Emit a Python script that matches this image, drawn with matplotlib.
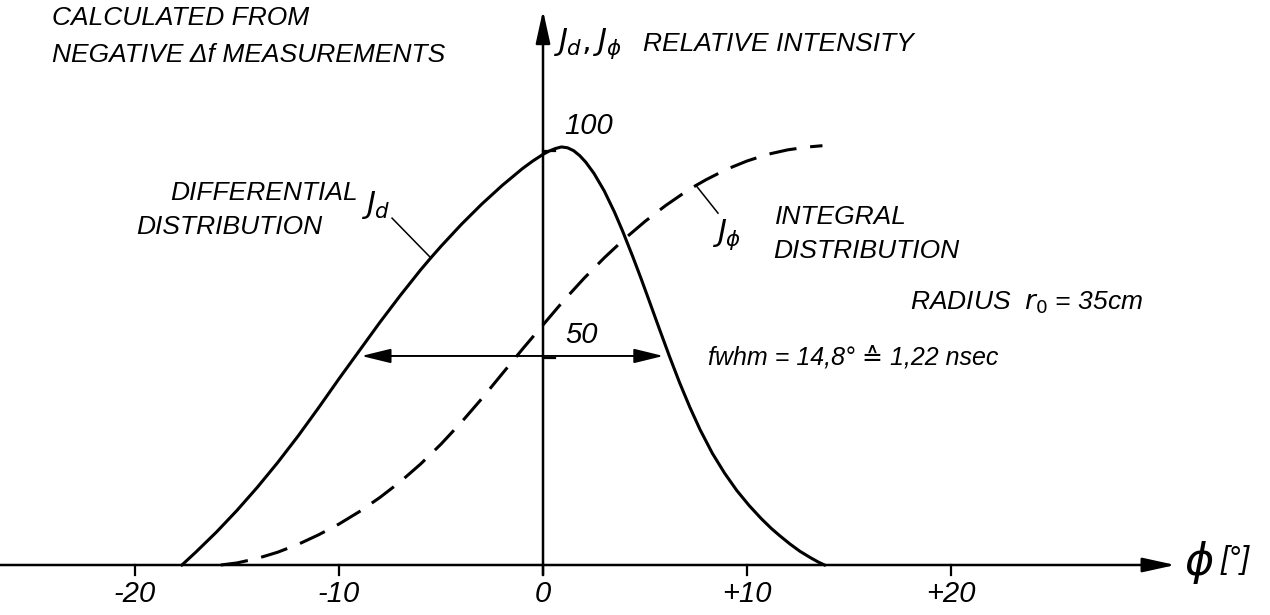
import matplotlib.pyplot as plt

plt.rcParams['font.family'] = ['Liberation Sans', 'DejaVu Sans']
plt.rcParams['mathtext.fontset'] = 'dejavusans'

# Differential distribution J_d (solid), relative intensity vs phi [deg]
diff_phi = [-17.7, -17.0, -16.0, -15.0, -14.0, -13.0, -12.0, -11.0, -10.0, -9.0,
            -8.0, -7.0, -6.0, -5.5, -5.0, -4.0, -3.0, -2.0, -1.0, -0.5,
            0.0, 0.3, 0.6, 0.9, 1.2, 1.5, 1.8, 2.1, 2.5, 3.0,
            3.5, 3.9, 4.4, 4.8, 5.2, 5.7, 6.2, 6.7, 7.2, 7.7,
            8.3, 8.9, 9.5, 10.1, 10.7, 11.2, 11.6, 12.1, 12.6, 13.1, 13.5, 13.8]
diff_val = [0, 3.2, 8.0, 13.2, 18.8, 24.8, 31.2, 38.0, 45.0, 51.8,
            58.6, 65.1, 71.3, 74.2, 77.0, 82.3, 87.2, 91.7, 95.8, 97.6,
            99.2, 100.0, 100.6, 101.0, 100.8, 100.1, 98.9, 97.3, 94.6, 90.4,
            85.3, 80.7, 74.5, 69.3, 63.9, 57.1, 50.4, 44.0, 38.1, 32.7,
            27.0, 22.2, 18.0, 14.4, 11.2, 8.8, 7.1, 5.1, 3.3, 1.8, 0.7, 0]

# Integral distribution J_phi (dashed)
int_phi = [-15.8, -15.0, -14.0, -13.0, -12.0, -11.0, -10.0, -9.0, -8.0, -7.0,
           -6.0, -5.0, -4.0, -3.0, -2.0, -1.0, 0.0, 1.0, 2.0, 3.0,
           4.0, 5.0, 6.0, 7.0, 7.5, 8.0, 9.0, 10.0, 11.0, 12.0, 13.0, 13.7]
int_val = [0, 0.5, 1.6, 3.1, 5.0, 7.3, 9.9, 12.9, 16.3, 20.1,
           24.4, 29.2, 34.5, 40.2, 46.2, 52.2, 58.0, 63.8, 69.2, 74.2,
           78.8, 83.0, 86.8, 90.2, 91.7, 93.1, 95.6, 97.6, 99.2, 100.3, 101.0, 101.3]

x_ticks = [-20, -10, 0, 10, 20]
x_tick_labels = ['-20', '-10', '0', '+10', '+20']
y_ticks = [50, 100]

fwhm_center = -1.5
fwhm = 14.8

fig = plt.figure(figsize=(12.7, 6.15), dpi=100)
ax = fig.add_axes([0, 0, 1, 1])
ax.set_xlim(-26.62, 35.64)
ax.set_ylim(-12.08, 136.5)
ax.axis('off')

txt = dict(style='italic', color='black', fontsize=19)
num = dict(style='italic', color='black', fontsize=21)
head = '-|>,head_length=1.0,head_width=0.22'

# axes with arrow heads
ax.annotate('', xy=(31.0, 0), xytext=(-26.7, 0),
            arrowprops=dict(arrowstyle=head, lw=1.8, color='black',
                            mutation_scale=20, shrinkA=0, shrinkB=0))
ax.annotate('', xy=(0, 134.0), xytext=(0, -2.4),
            arrowprops=dict(arrowstyle=head, lw=1.8, color='black',
                            mutation_scale=20, shrinkA=0, shrinkB=0))

for t, lab in zip(x_ticks, x_tick_labels):
    ax.plot([t, t], [0, -2.4], color='black', lw=1.6)
    ax.text(t, -7.0, lab, ha='center', va='center', **num)
for t in y_ticks:
    ax.plot([0, 0.6], [t, t], color='black', lw=1.6)
ax.text(2.25, 106, '100', ha='center', va='center', **num)
ax.text(1.9, 55.6, '50', ha='center', va='center', **num)

# curves
ax.plot(diff_phi, diff_val, color='black', lw=2.2, solid_joinstyle='round')
ax.plot(int_phi, int_val, color='black', lw=2.2, linestyle=(0, (9, 4.5)))

# full width at half maximum
half = max(diff_val) / 2
ax.annotate('', xy=(fwhm_center - fwhm / 2, half),
            xytext=(fwhm_center + fwhm / 2, half),
            arrowprops=dict(arrowstyle='<|-|>,head_length=0.9,head_width=0.22',
                            lw=1.4, color='black', mutation_scale=20,
                            shrinkA=0, shrinkB=0))
ax.text(8.09, 50.2, 'fwhm = 14,8° ≙ 1,22 nsec', ha='left', va='center',
        style='italic', fontsize=18)

# labels and leaders
ax.text(-24.07, 132.1, 'CALCULATED FROM', ha='left', va='center', **txt)
ax.text(-24.07, 123.2, 'NEGATIVE Δf MEASUREMENTS', ha='left', va='center', **txt)
ax.text(0.5, 125.8, r'$J_d, J_\phi$', ha='left', va='center', fontsize=22)
ax.text(4.9, 125.8, 'RELATIVE INTENSITY', ha='left', va='center', **txt)

ax.text(-9.1, 89.9, 'DIFFERENTIAL', ha='right', va='center', **txt)
ax.text(-10.8, 81.6, 'DISTRIBUTION', ha='right', va='center', **txt)
ax.text(-8.9, 87.0, r'$J_d$', ha='left', va='center', fontsize=22)
ax.plot([-7.4, diff_phi[13]], [83.8, diff_val[13]], color='black', lw=1.1)

ax.text(8.28, 79.7, r'$J_\phi$', ha='left', va='center', fontsize=22)
ax.plot([8.58, int_phi[24]], [85.0, int_val[24]], color='black', lw=1.1)
ax.text(11.37, 84.1, 'INTEGRAL', ha='left', va='center', **txt)
ax.text(11.27, 75.8, 'DISTRIBUTION', ha='left', va='center', **txt)

ax.text(18.0, 63.3, r'RADIUS  $r_0$ = 35cm', ha='left', va='center', **txt)

ax.text(32.2, 0.5, 'ϕ', ha='center', va='center', fontsize=32,
        family='DejaVu Sans', style='italic')
ax.text(33.2, 1.2, '[°]', ha='left', va='center', style='italic', fontsize=22)

fig.savefig('out.png', dpi=100)
